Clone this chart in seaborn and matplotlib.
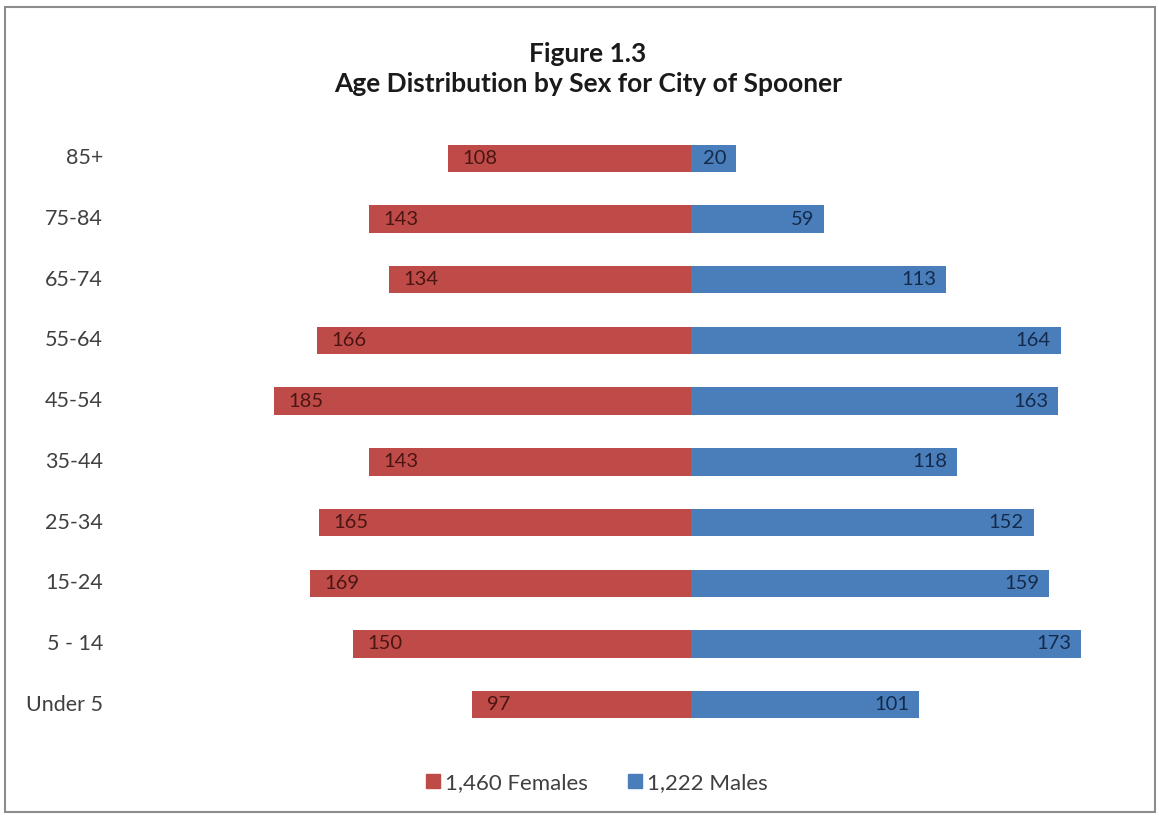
import matplotlib
matplotlib.use("Agg")
import matplotlib.pyplot as plt
from matplotlib.lines import Line2D
from matplotlib.patches import Rectangle
import seaborn as sns
import pandas as pd

age_groups = ["85+", "75-84", "65-74", "55-64", "45-54", "35-44", "25-34", "15-24", "5 - 14", "Under 5"]
females = [108, 143, 134, 166, 185, 143, 165, 169, 150, 97]
males = [20, 59, 113, 164, 163, 118, 152, 159, 173, 101]
legend_labels = ["1,460 Females", "1,222 Males"]
title_text = "Figure 1.3\nAge Distribution by Sex for City of Spooner"

RED = "#BE4B48"
BLUE = "#4A7EBB"

sns.set_theme(style="white")
plt.rcParams["font.family"] = ["Lato", "DejaVu Sans"]

W, H = 1159, 816
fig = plt.figure(figsize=(W / 100, H / 100), dpi=100)
fig.patch.set_facecolor("white")

# axes placement in pixels
ax_left, ax_right = 200, 1120
ax_top, ax_bottom = 128, 735
ax = fig.add_axes([ax_left / W, 1 - ax_bottom / H, (ax_right - ax_left) / W, (ax_bottom - ax_top) / H])

df = pd.DataFrame({"age": age_groups, "female": [-v for v in females], "male": males})
sns.barplot(data=df, x="female", y="age", order=age_groups, orient="h", color=RED,
            saturation=1, width=0.45, linewidth=0, ax=ax)
sns.barplot(data=df, x="male", y="age", order=age_groups, orient="h", color=BLUE,
            saturation=1, width=0.45, linewidth=0, ax=ax)

scale = 2.254  # px per unit
ax.set_xlim(-(691 - ax_left) / scale, (ax_right - 691) / scale)
ax.set_ylim(len(age_groups) - 0.5, -0.5)

for i, (f, m) in enumerate(zip(females, males)):
    ax.annotate(str(f), xy=(-f, i), xytext=(10.5, 0), textcoords="offset points",
                ha="left", va="center", fontsize=14.5, color="#4a1512")
    ax.annotate(str(m), xy=(m, i), xytext=(-7, 0), textcoords="offset points",
                ha="right", va="center", fontsize=14.5, color="#142a4a")

ax.set_xlabel("")
ax.set_ylabel("")
ax.set_xticks([])
ax.set_yticks([])
for sp in ax.spines.values():
    sp.set_visible(False)

# y category labels, right aligned at fixed pixel position
for i, lab in enumerate(age_groups):
    ax.annotate(lab, xy=(0, i), xycoords=("figure fraction", "data"),
                xytext=(103, 0), textcoords="offset pixels",
                ha="right", va="center", fontsize=15.5, color="#404040")

fig.text(588 / W, 1 - 69 / H, title_text, ha="center", va="center",
         fontsize=19, fontweight="bold", color="#1a1a1a", linespacing=1.3)

handles = [Line2D([], [], marker="s", linestyle="", markersize=9.5, color=c) for c in (RED, BLUE)]
fig.legend(handles, legend_labels, loc="center", bbox_to_anchor=(595 / W, 1 - 783 / H),
           ncol=2, frameon=False, fontsize=16, handletextpad=0.05, columnspacing=1.6,
           handlelength=1.0, labelcolor="#404040")

fig.add_artist(Rectangle((5 / W, 1 - 812 / H), 1150 / W, 805 / H, transform=fig.transFigure,
                         fill=False, edgecolor="#8c8c8c", linewidth=1.5))

fig.savefig("out.png", dpi=100, facecolor="white")
